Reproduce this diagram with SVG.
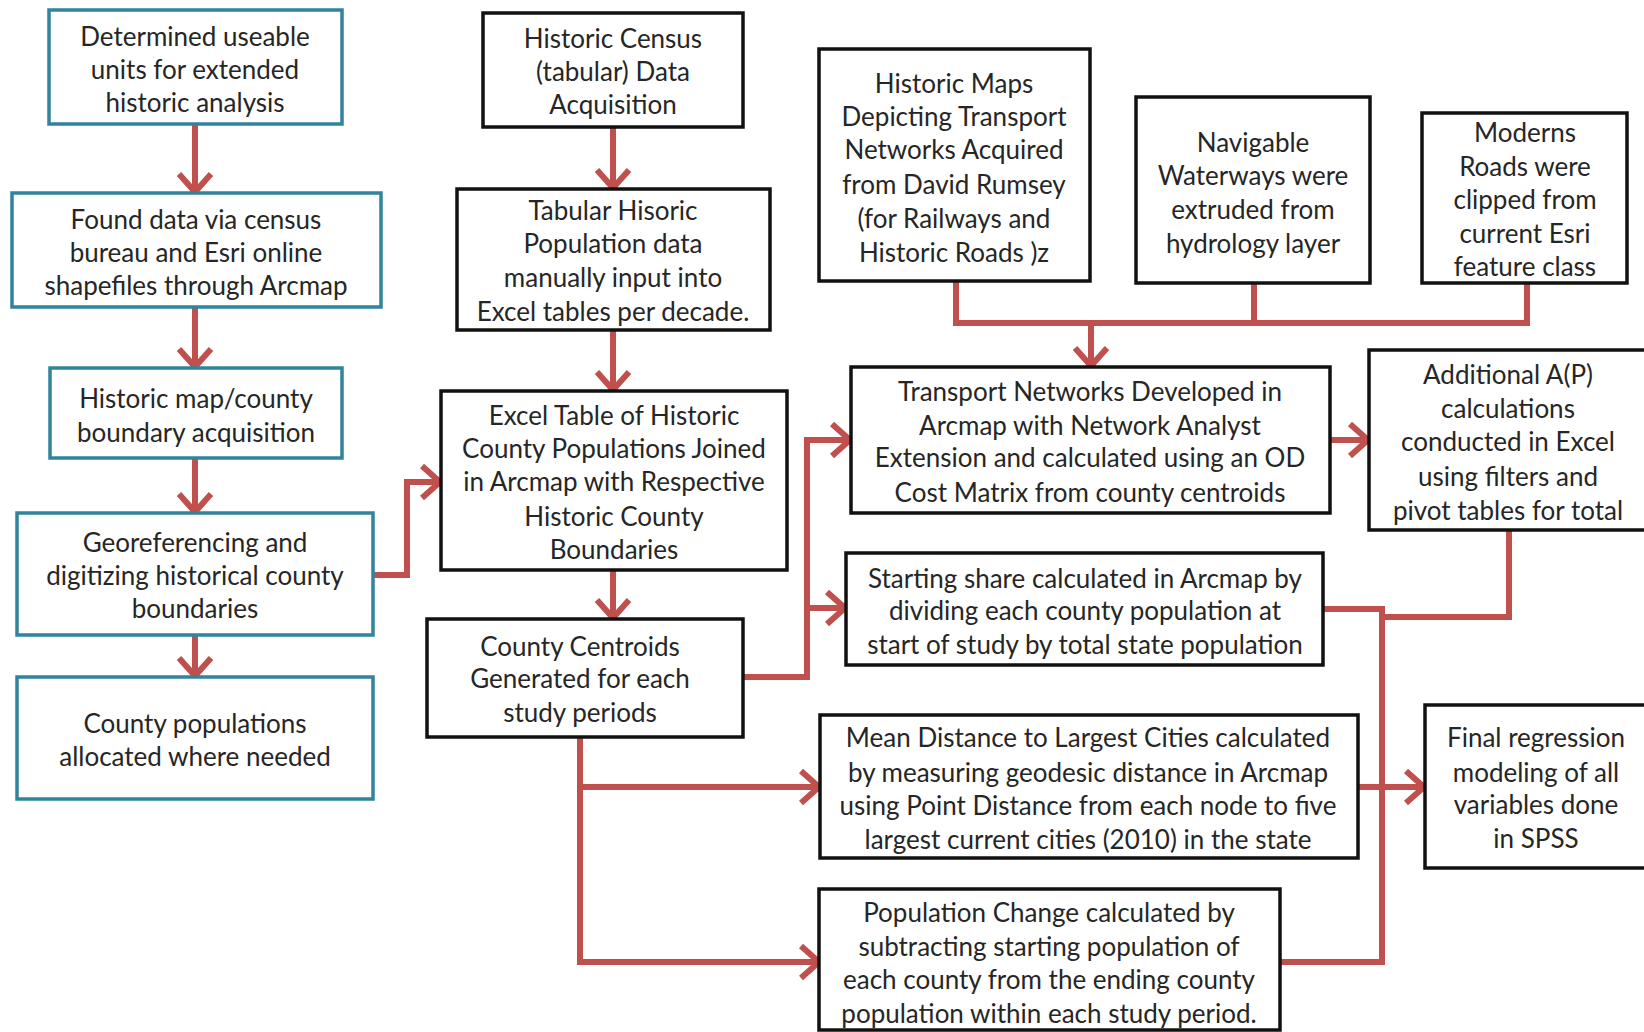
<svg xmlns="http://www.w3.org/2000/svg" width="1644" height="1032" viewBox="0 0 1644 1032">
<defs>
<style>
.bt{fill:#fff;stroke:#31849B;stroke-width:3.5}
.bk{fill:#fff;stroke:#111;stroke-width:3.5}
text{font-family:Lato,"Liberation Sans",sans-serif;font-size:26px;fill:#262626;text-anchor:middle}
.c{fill:none;stroke:#C0504D;stroke-width:6;stroke-linejoin:miter}
.a{marker-end:url(#ar)}
</style>
<marker id="ar" viewBox="0 0 30 40" refX="24" refY="20" markerWidth="30" markerHeight="40" markerUnits="userSpaceOnUse" orient="auto">
<path d="M5,4 L23,20 L5,36" fill="none" stroke="#C0504D" stroke-width="6"/>
</marker>
</defs>
<rect width="1644" height="1032" fill="#fff"/>
<g id="connectors">
<path class="c a" d="M195,124 V193"/>
<path class="c a" d="M195,307 V368"/>
<path class="c a" d="M195,458 V513"/>
<path class="c a" d="M195,635 V677"/>
<path class="c a" d="M373,575 H407 V482 H441"/>
<path class="c a" d="M613,127 V189"/>
<path class="c a" d="M613,330 V391"/>
<path class="c a" d="M613,570 V619"/>
<path class="c a" d="M743,677 H807 V440 H851"/>
<path class="c a" d="M807,608 H846"/>
<path class="c" d="M580,737 V962 H800"/>
<path class="c a" d="M800,962 H820"/>
<path class="c a" d="M580,787 H820"/>
<path class="c" d="M956,281 V323 H1527 V283"/>
<path class="c" d="M1254,283 V323"/>
<path class="c a" d="M1091,323 V367"/>
<path class="c a" d="M1330,440 H1369"/>
<path class="c" d="M1509,530 V617 H1382"/>
<path class="c" d="M1323,609 H1382 V962 H1280"/>
<path class="c a" d="M1358,787 H1425"/>
</g>
<g id="n1"><rect class="bt" x="49" y="10" width="293" height="114"/>
<text x="195" y="46">Determined useable</text><text x="195" y="79">units for extended</text><text x="195" y="112">historic analysis</text></g>
<g id="n2"><rect class="bt" x="12" y="193" width="369" height="114"/>
<text x="196" y="229">Found data via census</text><text x="196" y="262">bureau and Esri online</text><text x="196" y="295">shapefiles through Arcmap</text></g>
<g id="n3"><rect class="bt" x="50" y="368" width="292" height="90"/>
<text x="196" y="408">Historic map/county</text><text x="196" y="442">boundary acquisition</text></g>
<g id="n4"><rect class="bt" x="17" y="513" width="356" height="122"/>
<text x="195" y="552">Georeferencing and</text><text x="195" y="585">digitizing historical county</text><text x="195" y="618">boundaries</text></g>
<g id="n5"><rect class="bt" x="17" y="677" width="356" height="122"/>
<text x="195" y="733">County populations</text><text x="195" y="766">allocated where needed</text></g>
<g id="n6"><rect class="bk" x="483" y="13" width="260" height="114"/>
<text x="613" y="48">Historic Census</text><text x="613" y="81">(tabular) Data</text><text x="613" y="114">Acquisition</text></g>
<g id="n7"><rect class="bk" x="457" y="189" width="313" height="141"/>
<text x="613" y="220">Tabular Hisoric</text><text x="613" y="253">Population data</text><text x="613" y="287">manually input into</text><text x="613" y="321">Excel tables per decade.</text></g>
<g id="n8"><rect class="bk" x="441" y="391" width="346" height="179"/>
<text x="614" y="425">Excel Table of Historic</text><text x="614" y="458">County Populations Joined</text><text x="614" y="491">in Arcmap with Respective</text><text x="614" y="526">Historic County</text><text x="614" y="559">Boundaries</text></g>
<g id="n9"><rect class="bk" x="427" y="619" width="316" height="118"/>
<text x="580" y="656">County Centroids</text><text x="580" y="688">Generated for each</text><text x="580" y="722">study periods</text></g>
<g id="n10"><rect class="bk" x="819" y="49" width="271" height="232"/>
<text x="954" y="93">Historic Maps</text><text x="954" y="126">Depicting Transport</text><text x="954" y="159">Networks Acquired</text><text x="954" y="194">from David Rumsey</text><text x="954" y="228">(for Railways and</text><text x="954" y="262">Historic Roads )z</text></g>
<g id="n11"><rect class="bk" x="1136" y="97" width="234" height="186"/>
<text x="1253" y="152">Navigable</text><text x="1253" y="185">Waterways were</text><text x="1253" y="219">extruded from</text><text x="1253" y="253">hydrology layer</text></g>
<g id="n12"><rect class="bk" x="1422" y="113" width="205" height="170"/>
<text x="1525" y="142">Moderns</text><text x="1525" y="176">Roads were</text><text x="1525" y="209">clipped from</text><text x="1525" y="243">current Esri</text><text x="1525" y="276">feature class</text></g>
<g id="n13"><rect class="bk" x="851" y="367" width="479" height="146"/>
<text x="1090" y="401">Transport Networks Developed in</text><text x="1090" y="435">Arcmap with Network Analyst</text><text x="1090" y="467">Extension and calculated using an OD</text><text x="1090" y="502">Cost Matrix from county centroids</text></g>
<g id="n14"><rect class="bk" x="1369" y="350" width="280" height="180"/>
<text x="1508" y="384">Additional A(P)</text><text x="1508" y="418">calculations</text><text x="1508" y="451">conducted in Excel</text><text x="1508" y="486">using filters and</text><text x="1508" y="520">pivot tables for total</text></g>
<g id="n15"><rect class="bk" x="846" y="553" width="477" height="112"/>
<text x="1085" y="588">Starting share calculated in Arcmap by</text><text x="1085" y="620">dividing each county population at</text><text x="1085" y="654">start of study by total state population</text></g>
<g id="n16"><rect class="bk" x="820" y="715" width="538" height="143"/>
<text x="1088" y="747">Mean Distance to Largest Cities calculated</text><text x="1088" y="782">by measuring geodesic distance in Arcmap</text><text x="1088" y="815">using Point Distance from each node to five</text><text x="1088" y="849">largest current cities (2010) in the state</text></g>
<g id="n17"><rect class="bk" x="1425" y="705" width="224" height="163"/>
<text x="1536" y="747">Final regression</text><text x="1536" y="782">modeling of all</text><text x="1536" y="814">variables done</text><text x="1536" y="848">in SPSS</text></g>
<g id="n18"><rect class="bk" x="819" y="889" width="461" height="141"/>
<text x="1049" y="922">Population Change calculated by</text><text x="1049" y="956">subtracting starting population of</text><text x="1049" y="989">each county from the ending county</text><text x="1049" y="1023">population within each study period.</text></g>
</svg>
